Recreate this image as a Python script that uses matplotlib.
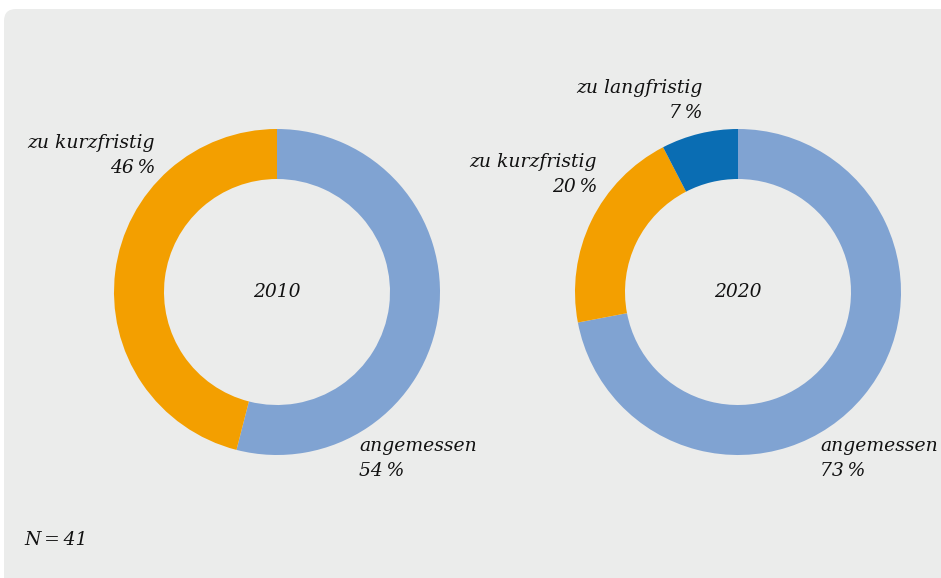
import matplotlib
matplotlib.use("Agg")
import matplotlib.pyplot as plt
from matplotlib.patches import FancyBboxPatch

# data (wedge shares as drawn, labels as printed)
years = ["2010", "2020"]
labels_2010 = ["angemessen", "zu kurzfristig"]
values_2010 = [54, 46]
pct_2010 = [54, 46]
labels_2020 = ["angemessen", "zu kurzfristig", "zu langfristig"]
values_2020 = [72, 20.4, 7.6]
pct_2020 = [73, 20, 7]
n_total = 41

colors = {"angemessen": "#80a3d2", "zu kurzfristig": "#f39f00", "zu langfristig": "#0a6db3"}
BG = "#ebeceb"

W, H = 941, 578
fig = plt.figure(figsize=(W / 100, H / 100), dpi=100)
fig.patch.set_facecolor("white")
ax = fig.add_axes([0, 0, 1, 1])

# panel
ax.add_patch(FancyBboxPatch((4 + 12, -40), W + 40, H - 9 + 40 - 12,
                            boxstyle="round,pad=12,rounding_size=12",
                            facecolor=BG, edgecolor="none", zorder=0))

font = dict(family="DejaVu Serif", style="italic", fontsize=13.5, color="#111111")
R, WIDTH = 163, 50

def Y(y):
    return H - y

def donut(cx, cy, labels, values, year):
    ax.pie(values, colors=[colors[l] for l in labels], startangle=90, counterclock=False,
           center=(cx, Y(cy)), radius=R, wedgeprops=dict(width=WIDTH, linewidth=0),
           frame=True)
    ax.text(cx, Y(cy), year, ha="center", va="center", **font)

donut(277, 292, labels_2010, values_2010, years[0])
donut(738, 292, labels_2020, values_2020, years[1])
ax.set_xlim(0, W)
ax.set_ylim(0, H)
ax.set_aspect("equal")
ax.axis("off")

def label(x, y, name, val, ha):
    ax.text(x, Y(y), name, ha=ha, va="center", **font)
    ax.text(x, Y(y + 25), f"{val}\u2009%", ha=ha, va="center", **font)

label(155, 143, labels_2010[1], pct_2010[1], "right")
label(359, 446, labels_2010[0], pct_2010[0], "left")
label(703, 88, labels_2020[2], pct_2020[2], "right")
label(597, 162, labels_2020[1], pct_2020[1], "right")
label(820, 446, labels_2020[0], pct_2020[0], "left")

ax.text(24, Y(540), f"N\u2009=\u2009{n_total}", ha="left", va="center", **font)

fig.savefig("out.png", dpi=100, facecolor="white")
